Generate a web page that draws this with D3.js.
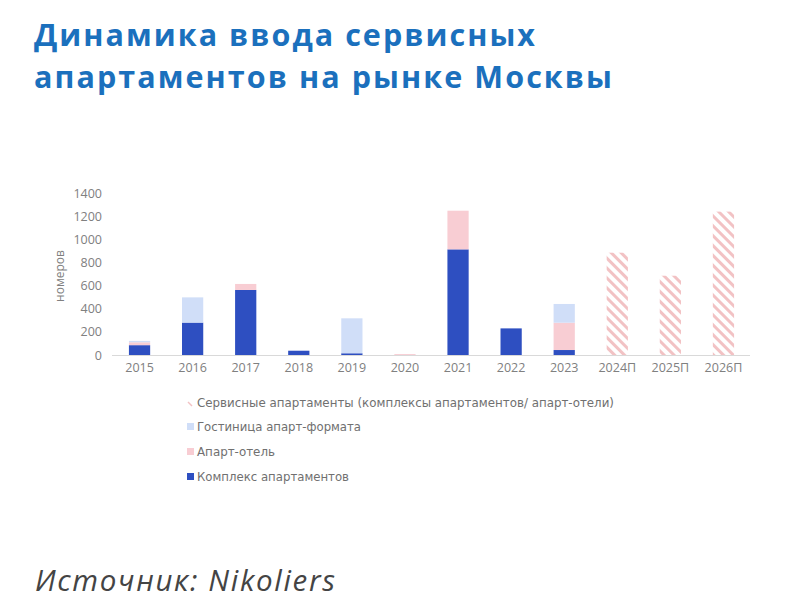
<!DOCTYPE html>
<html><head><meta charset="utf-8">
<script src="https://cdn.jsdelivr.net/npm/d3@7"></script>
<style>
body{margin:0;background:#fff;}
svg{display:block;}
</style></head>
<body>
<svg id="c" width="800" height="607"></svg>
<script>
const years = ["2015","2016","2017","2018","2019","2020","2021","2022","2023","2024П","2025П","2026П"];
const complexApart = [85, 280, 562, 37, 15, 0, 913, 230, 43, 0, 0, 0];
const apartHotel   = [25, 0, 52, 0, 0, 8, 334, 0, 236, 0, 0, 0];
const hotelApart   = [12, 218, 0, 0, 302, 0, 0, 0, 162, 0, 0, 0];
const forecast     = [0, 0, 0, 0, 0, 0, 0, 0, 0, 884, 685, 1239];
const yTicks = [0, 200, 400, 600, 800, 1000, 1200, 1400];
const seriesNames = ["Сервисные апартаменты (комплексы апартаментов/ апарт-отели)", "Гостиница апарт-формата", "Апарт-отель", "Комплекс апартаментов"];

const colBlue = "#2e4fc1", colPink = "#f8cdd3", colLight = "#d0def8", hatchCol = "#f2c2c4";
const svg = d3.select("#c");
const defs = svg.append("defs");
const pat = defs.append("pattern").attr("id","hatch").attr("patternUnits","userSpaceOnUse")
  .attr("width",7).attr("height",7).attr("patternTransform","rotate(-45)");
pat.append("rect").attr("width",7).attr("height",7).attr("fill","#fff");
pat.append("rect").attr("x",0).attr("y",0).attr("width",3).attr("height",7).attr("fill",hatchCol);

// Title
const title = svg.append("text").attr("font-family","Open Sans").attr("font-weight",700)
  .attr("font-size",30.5).attr("fill","#1b70bd");
title.append("tspan").attr("x",34).attr("y",46).attr("textLength",501).attr("lengthAdjust","spacing").text("Динамика ввода сервисных");
title.append("tspan").attr("x",34).attr("y",88).attr("textLength",578).attr("lengthAdjust","spacing").text("апартаментов на рынке Москвы");

const x = d3.scaleBand().domain(years).range([113, 750]).paddingInner(0.6).paddingOuter(0.3);
const y = d3.scaleLinear().domain([0,1400]).range([355,193]);

const axisFont = "Open Sans";
const axisCol = "#808080";
// y ticks
const yAxis = d3.axisLeft(y).tickValues(yTicks).tickFormat(d3.format("d")).tickSize(0).tickPadding(0);
const gy = svg.append("g").attr("transform","translate(102,0)").call(yAxis);
gy.select(".domain").remove();
gy.selectAll("text").attr("font-family",axisFont).attr("font-size",12.5).attr("fill",axisCol);

// baseline
svg.append("line").attr("x1",112).attr("x2",750).attr("y1",y(0)+0.5).attr("y2",y(0)+0.5)
  .attr("stroke","#d9d9d9").attr("stroke-width",1);

// x axis
const xAxis = d3.axisBottom(x).tickSize(0).tickPadding(8);
const gx = svg.append("g").attr("transform",`translate(0,${y(0)})`).call(xAxis);
gx.select(".domain").remove();
gx.selectAll("text").attr("font-family",axisFont).attr("font-size",12.5).attr("fill",axisCol);

// y label
svg.append("text").attr("transform","translate(64,276) rotate(-90)").attr("text-anchor","middle")
  .attr("font-family",axisFont).attr("font-size",12).attr("fill",axisCol).text("номеров");

// stacked bars
const rows = years.map((yr,i)=>({year:yr, complex:complexApart[i], apart:apartHotel[i], hotel:hotelApart[i], fc:forecast[i]}));
const stack = d3.stack().keys(["complex","apart","hotel","fc"])(rows);
const fills = {complex:colBlue, apart:colPink, hotel:colLight, fc:"url(#hatch)"};
stack.forEach(s=>{
  svg.append("g").selectAll("rect").data(s).join("rect")
    .attr("x",d=>x(d.data.year)).attr("width",x.bandwidth())
    .attr("y",d=>y(d[1])).attr("height",d=>Math.max(0,y(d[0])-y(d[1])))
    .attr("fill",fills[s.key]);
});

// legend
const legY = [407, 431, 456, 481];
const legCols = ["hatch", colLight, colPink, colBlue];
const legLens = [417, 164, 78, 152];
seriesNames.forEach((n,i)=>{
  const g = svg.append("g");
  if(i===0){
    g.append("line").attr("x1",188).attr("y1",legY[i]-5).attr("x2",192).attr("y2",legY[i]-1).attr("stroke",hatchCol).attr("stroke-width",1.5);
  } else {
    g.append("rect").attr("x",187).attr("y",legY[i]-8).attr("width",7).attr("height",7).attr("fill",legCols[i]);
  }
  g.append("text").attr("x",197).attr("y",legY[i]).attr("font-family","DejaVu Sans").attr("font-size",12)
    .attr("fill","#707070").attr("textLength",legLens[i]).attr("lengthAdjust","spacingAndGlyphs").text(n);
});

// source
svg.append("text").attr("x",35).attr("y",591).attr("font-family","Open Sans").attr("font-style","italic")
  .attr("font-size",29.5).attr("fill","#444").attr("textLength",300).attr("lengthAdjust","spacing").text("Источник: Nikoliers");
</script>
</body></html>
